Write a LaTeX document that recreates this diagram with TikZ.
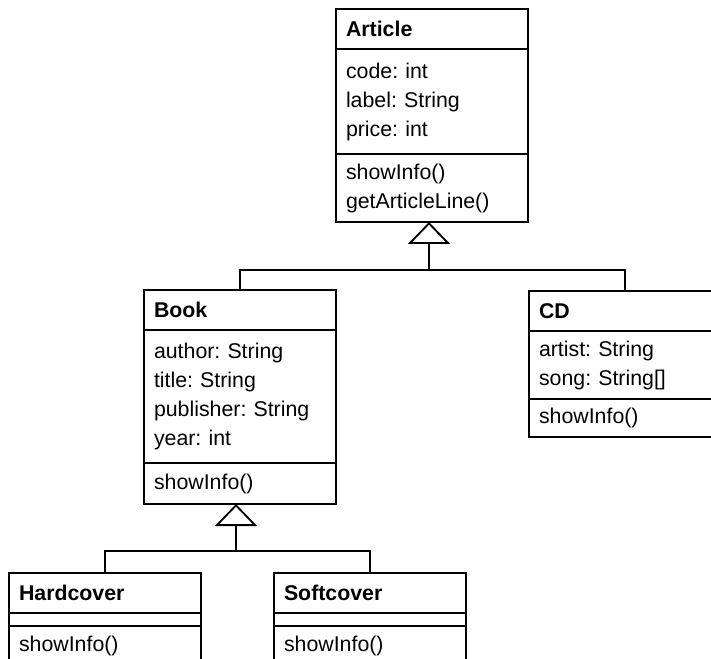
\documentclass[tikz,border=0pt]{standalone}
\usepackage{fontspec}
\setmainfont{Liberation Sans}
\frenchspacing
\usetikzlibrary{positioning}
\usetikzlibrary{arrows.meta}
\usetikzlibrary{calc}

\tikzset{
	umlbox/.style={draw, line width=1.4pt, outer sep=0pt, minimum width=144pt,
		text width=129pt, inner xsep=7.5pt, inner ysep=2pt, align=left,
		font=\fontsize{16pt}{21.75pt}\selectfont},
	umltitle/.style={umlbox, minimum height=30pt, font=\fontsize{16pt}{21.75pt}\selectfont\bfseries},
	umlline/.style={line width=1.4pt},
	inherit/.style={umlline, -{Triangle[open, length=16.5pt, width=31.5pt]}}
}

\begin{document}
\begin{tikzpicture}[x=0.75pt, y=-0.75pt]
	\clip (0,0) rectangle (711,659);
	\fill[white] (0,0) rectangle (711,659);

	% base class
	\node[umltitle] (art-t) at (432,29) {Article};
	\node[umlbox, minimum height=78.75pt, below=0pt of art-t] (art-a) {code: int\\label: String\\price: int};
	\node[umlbox, minimum height=51pt, below=0pt of art-a] (art-m) {showInfo()\\getArticleLine()};

	% first level
	\node[umltitle] (book-t) at (240,310) {Book};
	\node[umlbox, minimum height=99.75pt, below=0pt of book-t] (book-a) {author: String\\title: String\\publisher: String\\year: int};
	\node[umlbox, minimum height=30.75pt, below=0pt of book-a] (book-m) {showInfo()};

	\node[umltitle] (cd-t) at (625,311) {CD};
	\node[umlbox, minimum height=51pt, below=0pt of cd-t] (cd-a) {artist: String\\song: String[]};
	\node[umlbox, minimum height=28.5pt, below=0pt of cd-a] (cd-m) {showInfo()};

	% second level
	\node[umltitle] (hard-t) at (105,593) {Hardcover};
	\node[umlbox, minimum height=9.75pt, below=0pt of hard-t] (hard-a) {};
	\node[umlbox, minimum height=30pt, below=0pt of hard-a] (hard-m) {showInfo()};

	\node[umltitle] (soft-t) at (370,593) {Softcover};
	\node[umlbox, minimum height=9.75pt, below=0pt of soft-t] (soft-a) {};
	\node[umlbox, minimum height=30pt, below=0pt of soft-a] (soft-m) {showInfo()};

	% generalisations
	\coordinate (artfork) at ($(art-m.south)+(-3,48)$);
	\draw[inherit] (artfork) -- ([xshift=-2.25pt]art-m.south);
	\draw[umlline] (book-t.north) |- (artfork) -| (cd-t.north);

	\coordinate (bookfork) at ($(book-m.south)+(-4,47)$);
	\draw[inherit] (bookfork) -- ([xshift=-3pt]book-m.south);
	\draw[umlline] (hard-t.north) |- (bookfork) -| (soft-t.north);
\end{tikzpicture}
\end{document}
